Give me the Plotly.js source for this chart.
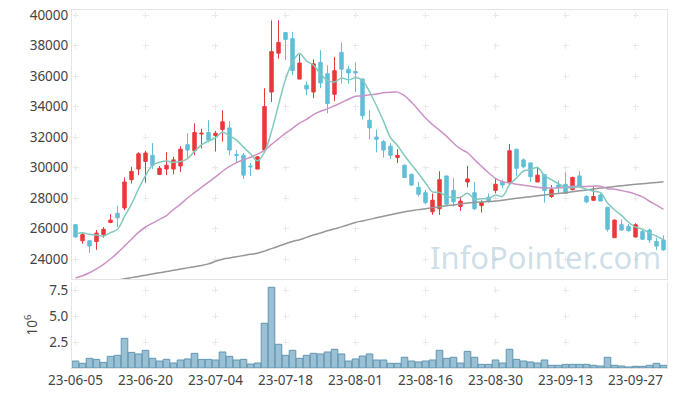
<!DOCTYPE html>
<html>
<head>
<meta charset="utf-8">
<script src="https://cdn.plot.ly/plotly-3.0.1.min.js"></script>
<style>html,body{margin:0;padding:0;background:#fff;}#chart{width:677px;height:397px;}</style>
</head>
<body>
<div id="chart"></div>
<script>
const dates = [
"23-06-05","23-06-07","23-06-08","23-06-09","23-06-12","23-06-13","23-06-14","23-06-15","23-06-16","23-06-19",
"23-06-20","23-06-21","23-06-22","23-06-23","23-06-26","23-06-27","23-06-28","23-06-29","23-06-30","23-07-03",
"23-07-04","23-07-05","23-07-06","23-07-07","23-07-10","23-07-11","23-07-12","23-07-13","23-07-14","23-07-17",
"23-07-18","23-07-19","23-07-20","23-07-21","23-07-24","23-07-25","23-07-26","23-07-27","23-07-28","23-07-31",
"23-08-01","23-08-02","23-08-03","23-08-04","23-08-07","23-08-08","23-08-09","23-08-10","23-08-11","23-08-14",
"23-08-16","23-08-17","23-08-18","23-08-21","23-08-22","23-08-23","23-08-24","23-08-25","23-08-28","23-08-29",
"23-08-30","23-08-31","23-09-01","23-09-04","23-09-05","23-09-06","23-09-07","23-09-08","23-09-11","23-09-12",
"23-09-13","23-09-14","23-09-15","23-09-18","23-09-19","23-09-20","23-09-21","23-09-22","23-09-25","23-09-26",
"23-09-27","23-10-04","23-10-05","23-10-06","23-10-10"];

const open = [26250,25200,25200,25150,25600,26400,27000,27350,29200,29900,
30400,30800,29550,29900,29900,30100,31500,31100,32200,32300,
32100,32500,32600,30850,30800,30100,29900,31150,34950,37500,
38850,38450,35800,35400,34950,36900,36150,34800,37550,36450,
36300,35800,33100,32000,31700,31400,30650,30150,29550,28700,
28350,27100,27300,29450,28500,27450,29050,28350,27500,28050,
28500,29050,29000,31200,30500,30300,29050,29550,28100,28850,
28900,28550,29450,28100,27850,28200,27400,25400,26250,26150,
25450,25800,25900,25150,25250];
const high = [26300,25750,25250,25900,26100,26950,27500,29350,30050,31000,
31100,31600,30100,31000,30700,31400,32250,32900,32550,33100,
32400,33750,33050,31150,30950,30300,30750,35200,39650,39650,
38850,38900,37400,35650,37100,37700,36700,37250,38200,36650,
36900,35850,33750,32500,31800,31600,31200,30200,29600,29050,
28550,28300,29750,29450,29300,28100,30100,29050,27850,28300,
29300,29200,31550,31200,30600,30300,30050,29550,28850,29150,
29700,29400,29750,28200,28750,28300,27400,26600,26600,26300,
26350,25900,26000,25400,25550];
const low = [25400,25000,24400,24600,25400,26350,26100,27200,28950,29500,
29000,29900,29500,29500,29550,29700,30550,30800,31250,31650,
31050,31700,30800,30300,29250,29450,29900,31100,34300,37150,
37050,36050,35800,34750,34550,35200,33550,34350,35500,35500,
34950,33150,31850,31000,30650,30550,30300,29300,28800,28100,
27600,26900,26900,27550,27450,27150,28700,27200,27050,27700,
28300,28650,28950,29450,29950,29050,29050,27700,28000,28300,
28300,28500,28750,27650,27800,27800,25800,25400,25850,25800,
25400,25250,25050,24600,24550];
const close = [25450,25600,24850,25700,25950,26550,26700,29050,29750,30900,
30950,30150,29950,30150,30500,31200,31150,32300,32250,31800,
32250,33000,31150,30800,29500,30050,30700,34000,37600,38200,
38400,36350,36850,35150,36800,35550,34200,36350,36450,36200,
36200,33400,32600,31850,31150,30800,30800,29350,28850,28250,
27700,27850,29200,27600,27750,27800,29250,27300,27700,27800,
28900,28850,31100,29950,30050,29400,29500,28500,28550,28700,
28300,29350,28750,27750,28100,27800,25950,26550,25900,25850,
26250,25300,25250,24850,24600];
// volume in millions of shares (axis unit 10^6)
const volume = [0.67,0.45,0.93,0.83,0.54,1.12,1.22,2.85,1.50,1.35,
1.70,0.93,0.67,0.83,0.48,0.77,0.87,1.41,0.83,0.83,
0.77,1.54,1.12,0.77,0.83,0.38,0.48,4.30,7.76,2.28,
1.22,1.70,0.93,1.22,1.41,1.35,1.54,1.80,1.35,0.67,
0.87,1.15,1.35,0.77,0.77,0.45,0.45,1.03,0.67,0.58,
0.67,0.77,1.70,0.93,1.03,0.48,1.60,1.03,0.35,0.35,
0.77,0.48,1.80,0.83,0.67,0.58,0.48,0.77,0.26,0.26,
0.35,0.35,0.35,0.35,0.26,0.19,1.03,0.26,0.19,0.10,
0.16,0.16,0.26,0.45,0.26];
const ma5 = [25650,25720,25620,25580,25510,25730,25950,26790,27600,28590,
29470,30160,30340,30420,30340,30390,30590,31060,31480,31740,
31950,32320,32090,31800,31340,30900,30440,31010,32370,34110,
35780,36910,37480,36990,36710,36140,35710,35610,35870,35750,
35880,35720,34970,34050,33040,31960,31440,30790,30190,29610,
28990,28400,28370,28120,28020,28040,28320,27940,27960,27970,
28190,28110,28870,29320,29770,29870,30000,29480,29200,28930,
28710,28680,28730,28570,28450,28350,27670,27230,26860,26410,
26090,25960,25700,25500,25250];
const ma20 = [22750,22900,23100,23350,23650,24000,24400,24850,25300,25750,
26100,26350,26600,26850,27250,27600,28000,28350,28700,29045,
29385,29755,30070,30325,30503,30678,30878,31125,31518,31883,
32255,32565,32910,33160,33475,33693,33845,34048,34258,34478,
34675,34695,34768,34820,34903,34940,34945,34713,34275,33778,
33243,32818,32435,32058,31605,31218,30970,30518,30080,29660,
29295,29068,28993,28898,28843,28773,28708,28665,28650,28673,
28703,28778,28755,28763,28780,28780,28615,28578,28488,28390,
28258,28080,27788,27533,27260];
const ma60 = [22050,22150,22250,22350,22450,22550,22620,22700,22780,22860,
22940,23020,23100,23180,23260,23340,23420,23500,23580,23680,
23850,23990,24070,24150,24230,24310,24380,24520,24680,24840,
25000,25150,25270,25420,25570,25710,25850,25980,26110,26250,
26400,26500,26600,26700,26800,26900,27000,27100,27170,27240,
27300,27370,27430,27490,27550,27610,27670,27710,27740,27770,
27800,27860,27920,27980,28040,28090,28150,28200,28250,28300,
28350,28410,28470,28530,28590,28650,28700,28760,28810,28860,
28900,28940,28980,29020,29060];

const UP = 'rgb(234,56,58)', DOWN = 'rgb(98,190,215)';
const tickDates = dates.filter((d, i) => i % 10 === 0);
const FONT = {family: 'Noto Sans, Open Sans, sans-serif', size: 13.5, color: '#444'};
const GRID = '#e9e9e9', LINE = '#e3e3e3';

const traces = [
  {type: 'candlestick', x: dates, open: open, high: high, low: low, close: close,
   xaxis: 'x', yaxis: 'y', whiskerwidth: 0, hoverinfo: 'skip', showlegend: false,
   increasing: {line: {color: UP, width: 1}, fillcolor: UP},
   decreasing: {line: {color: DOWN, width: 1}, fillcolor: DOWN}},
  {type: 'scatter', mode: 'lines', x: dates, y: ma60, xaxis: 'x', yaxis: 'y',
   line: {color: 'rgb(150,150,150)', width: 1.5, shape: 'spline'}, hoverinfo: 'skip', showlegend: false},
  {type: 'scatter', mode: 'lines', x: dates, y: ma20, xaxis: 'x', yaxis: 'y',
   line: {color: 'rgb(204,146,200)', width: 1.5, shape: 'spline'}, hoverinfo: 'skip', showlegend: false},
  {type: 'scatter', mode: 'lines', x: dates, y: ma5, xaxis: 'x', yaxis: 'y',
   line: {color: 'rgb(128,201,190)', width: 1.5, shape: 'spline'}, hoverinfo: 'skip', showlegend: false},
  {type: 'bar', x: dates, y: volume, xaxis: 'x2', yaxis: 'y2',
   marker: {color: 'rgba(130,176,200,0.8)', line: {color: 'rgb(95,150,178)', width: 1}},
   hoverinfo: 'skip', showlegend: false}
];

const layout = {
  width: 677, height: 397,
  margin: {l: 72, r: 10, t: 10, b: 29},
  paper_bgcolor: '#fff', plot_bgcolor: '#fff',
  font: FONT, showlegend: false, bargap: 0.06,
  xaxis: {type: 'category', range: [-0.5, 84.5], domain: [0, 1], anchor: 'y',
    showticklabels: false, tickvals: tickDates, ticks: '',
    showgrid: true, gridcolor: GRID, gridwidth: 1, griddash: '0px,2.03px,6px,22.47px',
    showline: true, linecolor: LINE, mirror: true, zeroline: false,
    rangeslider: {visible: false}, fixedrange: true},
  yaxis: {domain: [0.2486, 1], range: [22690, 40330], tickformat: 'd',
    tickmode: 'linear', tick0: 0, dtick: 2000, ticks: '',
    showgrid: true, gridcolor: GRID, gridwidth: 1, griddash: '0px,0.5px,6px,63.5px',
    showline: true, linecolor: LINE, mirror: true, zeroline: false, tickfont: FONT},
  xaxis2: {type: 'category', range: [-0.5, 84.5], domain: [0, 1], anchor: 'y2',
    tickvals: tickDates, ticktext: tickDates, ticks: '', tickfont: FONT,
    showgrid: true, gridcolor: GRID, gridwidth: 1, griddash: '0px,5px,6px,15px',
    showline: true, linecolor: LINE, mirror: false, zeroline: false},
  yaxis2: {domain: [0, 0.2402], range: [0, 8.27], tickvals: [2.5, 5, 7.5],
    ticktext: ['2.5', '5.0', '7.5'], ticks: '', tickfont: FONT,
    title: {text: '10<sup>6</sup>', font: FONT, standoff: 8},
    showgrid: true, gridcolor: GRID, gridwidth: 1, griddash: '0px,0.5px,6px,63.5px',
    showline: true, linecolor: LINE, mirror: true, zeroline: false},
  annotations: [{text: 'InfoPointer.com', xref: 'paper', yref: 'paper',
    x: 0.994, y: 0.31, xanchor: 'right', yanchor: 'middle', showarrow: false,
    font: {family: 'Noto Sans, Open Sans, sans-serif', size: 31, color: 'rgba(165,195,212,0.55)'}}]
};

Plotly.newPlot('chart', traces, layout, {staticPlot: true, displayModeBar: false});
</script>
</body>
</html>
